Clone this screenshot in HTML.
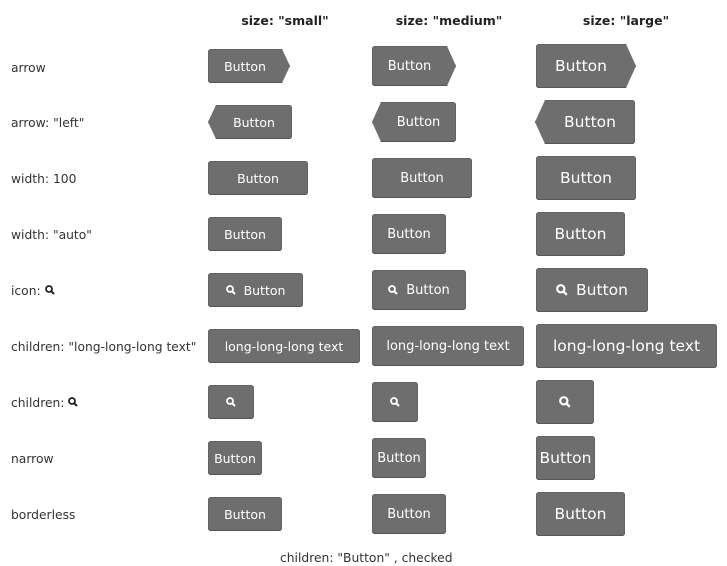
<!DOCTYPE html>
<html><head><meta charset="utf-8"><style>
body{margin:0;width:727px;height:566px;background:#fff;position:relative;overflow:hidden;font-family:"DejaVu Sans","Liberation Sans",sans-serif;color:#333}
.l{position:absolute;left:11px;font-size:12.3px;line-height:16px;white-space:nowrap;color:#333}
.h{position:absolute;top:13px;font-weight:bold;font-size:12.5px;color:#222;transform:translateX(-50%);white-space:nowrap}
.b{position:absolute;background:#6e6e6e;color:#fff;border-radius:3px;box-shadow:inset 0 -1px 0 #555,inset 0 0 0 1px #636363;display:flex;align-items:center;justify-content:center;white-space:nowrap;box-sizing:border-box;margin-top:1px}
.s{height:34px;font-size:12.5px}
.m{height:40px;font-size:13px}
.g{height:44px;font-size:15.5px}
.b svg{margin-right:8px}
.ic svg{margin:0}
</style></head><body>
<div class="h" style="left:285px">size: "small"</div>
<div class="h" style="left:449px">size: "medium"</div>
<div class="h" style="left:626px">size: "large"</div>

<div class="l" style="top:60px">arrow</div>
<div class="l" style="top:115px">arrow: "left"</div>
<div class="l" style="top:171px">width: 100</div>
<div class="l" style="top:227px">width: "auto"</div>
<div class="l" style="top:283px">icon: <svg width="10" height="10" viewBox="0 0 10 10"><circle cx="4" cy="4" r="3" fill="none" stroke="#222" stroke-width="1.8"/><line x1="6" y1="6" x2="9" y2="9" stroke="#222" stroke-width="2"/></svg></div>
<div class="l" style="top:339px">children: "long-long-long text"</div>
<div class="l" style="top:395px">children: <svg width="10" height="10" viewBox="0 0 10 10"><circle cx="4" cy="4" r="3" fill="none" stroke="#222" stroke-width="1.8"/><line x1="6" y1="6" x2="9" y2="9" stroke="#222" stroke-width="2"/></svg></div>
<div class="l" style="top:451px">narrow</div>
<div class="l" style="top:507px">borderless</div>

<div class="b s" style="left:208px;top:48px;width:82px;padding-right:8px;clip-path:polygon(0 0,calc(100% - 8px) 0,100% 50%,calc(100% - 8px) 100%,0 100%)">Button</div>
<div class="b m" style="left:372px;top:45px;width:84px;padding-right:9px;clip-path:polygon(0 0,calc(100% - 9px) 0,100% 50%,calc(100% - 9px) 100%,0 100%)">Button</div>
<div class="b g" style="left:536px;top:43px;width:100px;padding-right:10px;clip-path:polygon(0 0,calc(100% - 10px) 0,100% 50%,calc(100% - 10px) 100%,0 100%)">Button</div>
<div class="b s" style="left:208px;top:104px;width:84px;padding-left:8px;clip-path:polygon(8px 0,100% 0,100% 100%,8px 100%,0 50%)">Button</div>
<div class="b m" style="left:372px;top:101px;width:84px;padding-left:9px;clip-path:polygon(9px 0,100% 0,100% 100%,9px 100%,0 50%)">Button</div>
<div class="b g" style="left:535px;top:99px;width:100px;padding-left:10px;clip-path:polygon(10px 0,100% 0,100% 100%,10px 100%,0 50%)">Button</div>
<div class="b s" style="left:208px;top:160px;width:100px">Button</div>
<div class="b m" style="left:372px;top:157px;width:100px">Button</div>
<div class="b g" style="left:536px;top:155px;width:100px">Button</div>
<div class="b s" style="left:208px;top:216px;width:74px">Button</div>
<div class="b m" style="left:372px;top:213px;width:74px">Button</div>
<div class="b g" style="left:536px;top:211px;width:89px">Button</div>
<div class="b s" style="left:208px;top:272px;width:95px"><svg width="10" height="10" viewBox="0 0 10 10"><circle cx="4" cy="4" r="3" fill="none" stroke="#fff" stroke-width="1.8"/><line x1="6" y1="6" x2="9" y2="9" stroke="#fff" stroke-width="2"/></svg>Button</div>
<div class="b m" style="left:372px;top:269px;width:94px"><svg width="10" height="10" viewBox="0 0 10 10"><circle cx="4" cy="4" r="3" fill="none" stroke="#fff" stroke-width="1.8"/><line x1="6" y1="6" x2="9" y2="9" stroke="#fff" stroke-width="2"/></svg>Button</div>
<div class="b g" style="left:536px;top:267px;width:112px"><svg width="12" height="12" viewBox="0 0 10 10"><circle cx="4" cy="4" r="3" fill="none" stroke="#fff" stroke-width="1.8"/><line x1="6" y1="6" x2="9" y2="9" stroke="#fff" stroke-width="2"/></svg>Button</div>
<div class="b s" style="left:208px;top:328px;width:152px">long-long-long text</div>
<div class="b m" style="left:372px;top:325px;width:152px">long-long-long text</div>
<div class="b g" style="left:536px;top:323px;width:181px">long-long-long text</div>
<div class="b s ic" style="left:208px;top:384px;width:46px"><svg width="10" height="10" viewBox="0 0 10 10"><circle cx="4" cy="4" r="3" fill="none" stroke="#fff" stroke-width="1.8"/><line x1="6" y1="6" x2="9" y2="9" stroke="#fff" stroke-width="2"/></svg></div>
<div class="b m ic" style="left:372px;top:381px;width:46px"><svg width="10" height="10" viewBox="0 0 10 10"><circle cx="4" cy="4" r="3" fill="none" stroke="#fff" stroke-width="1.8"/><line x1="6" y1="6" x2="9" y2="9" stroke="#fff" stroke-width="2"/></svg></div>
<div class="b g ic" style="left:536px;top:379px;width:58px"><svg width="12" height="12" viewBox="0 0 10 10"><circle cx="4" cy="4" r="3" fill="none" stroke="#fff" stroke-width="1.8"/><line x1="6" y1="6" x2="9" y2="9" stroke="#fff" stroke-width="2"/></svg></div>
<div class="b s" style="left:208px;top:440px;width:54px">Button</div>
<div class="b m" style="left:372px;top:437px;width:54px">Button</div>
<div class="b g" style="left:536px;top:435px;width:59px">Button</div>
<div class="b s" style="left:208px;top:496px;width:74px">Button</div>
<div class="b m" style="left:372px;top:493px;width:74px">Button</div>
<div class="b g" style="left:536px;top:491px;width:89px">Button</div>

<div class="l" style="left:280px;top:550px">children: "Button" , checked</div>
</body></html>
